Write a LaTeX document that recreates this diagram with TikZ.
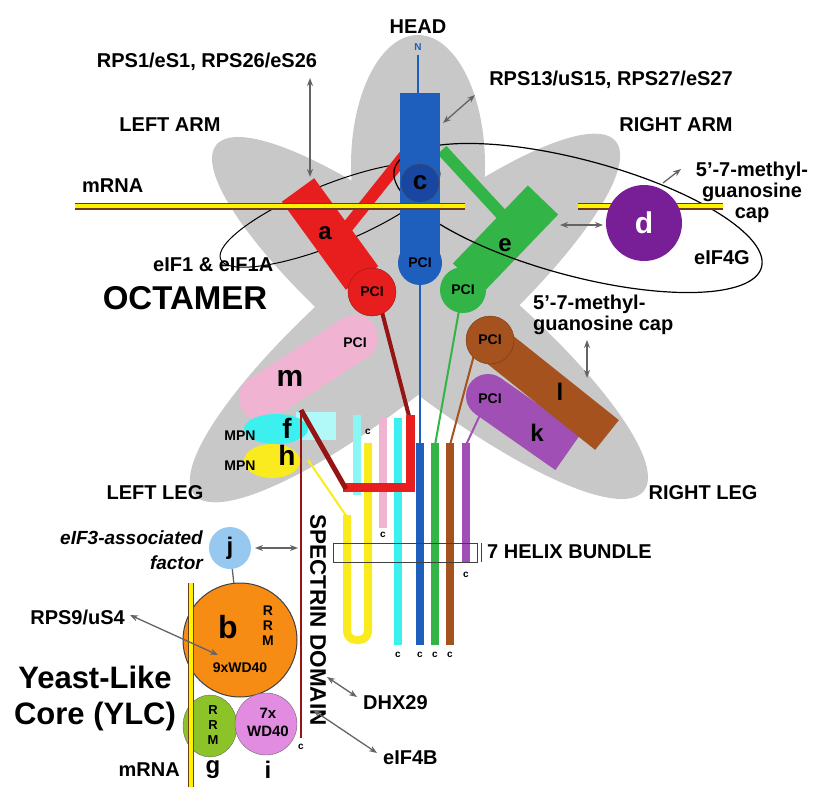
\documentclass[tikz,border=0pt]{standalone}
\usepackage{fontspec}
\setmainfont{Liberation Sans}
\usetikzlibrary{arrows.meta,shapes.geometric}
\definecolor{bggray}{RGB}{200,200,200}
\definecolor{redA}{RGB}{232,30,30}
\definecolor{darkred}{RGB}{150,20,20}
\definecolor{blueC}{RGB}{30,95,190}
\definecolor{blueCd}{RGB}{25,70,160}
\definecolor{greenE}{RGB}{50,180,70}
\definecolor{purpleD}{RGB}{120,30,150}
\definecolor{brownL}{RGB}{165,82,30}
\definecolor{purpleK}{RGB}{160,80,180}
\definecolor{pinkM}{RGB}{240,180,210}
\definecolor{cyanF}{RGB}{60,240,240}
\definecolor{yellowH}{RGB}{250,235,30}
\definecolor{orangeB}{RGB}{247,140,20}
\definecolor{greenG}{RGB}{140,195,40}
\definecolor{violetI}{RGB}{225,140,225}
\definecolor{lightblueJ}{RGB}{150,200,240}
\definecolor{arrowgray}{RGB}{100,100,100}
\definecolor{mrnaedge}{RGB}{110,60,20}
\begin{document}
\begin{tikzpicture}[x=1pt,y=-1pt,
  lbl/.style={font=\bfseries\fontsize{20}{22}\selectfont, inner sep=0pt},
  pcilbl/.style={font=\bfseries\fontsize{14}{16}\selectfont, inner sep=0pt},
  tinylbl/.style={font=\bfseries\fontsize{10}{10}\selectfont, inner sep=0pt},
  biglbl/.style={font=\bfseries\fontsize{31}{36}\selectfont, inner sep=0pt, align=center},
  sublbl/.style={font=\bfseries\fontsize{24}{26}\selectfont, inner sep=0pt},
  arr/.style={{Stealth[length=8pt,width=6pt]}-{Stealth[length=8pt,width=6pt]}, draw=arrowgray, line width=1.3pt},
  helix/.style={line width=8pt},
  pcicirc/.style={circle, minimum size=#1, inner sep=0pt, font=\bfseries\fontsize{14}{16}\selectfont},
]
\useasboundingbox (0,0) rectangle (817,787);

% gray body
\fill[bggray, rotate around={-39:(430,318)}] (430,318) ellipse [x radius=275pt, y radius=68pt];
\fill[bggray, rotate around={40:(405,318)}] (405,318) ellipse [x radius=275pt, y radius=68pt];
\fill[bggray] (418,165) ellipse [x radius=67pt, y radius=130pt];

% m, f, h
\draw[pinkM, line width=46pt, line cap=round] (355,338) -- (262,398);
\fill[cyanF!40] (296,412) rectangle (336,440);
\fill[cyanF] (276,429) ellipse [x radius=32pt, y radius=15pt];
\fill[yellowH] (272,461) ellipse [x radius=28pt, y radius=17pt];

% helices
\draw[cyanF!60, helix] (357,415) -- (357,495);
\draw[pinkM, helix] (383,418) -- (383,528);
\draw[cyanF, helix] (398,418) -- (398,645);
\draw[yellowH, helix, rounded corners=9pt] (347,515) -- (347,640) -- (368,640) -- (368,443);
\draw[yellowH, line width=2pt] (308,460) -- (347,517);
\draw[blueC, helix] (420,443) -- (420,645);
\draw[greenE, helix] (435,443) -- (435,645);
\draw[brownL, helix] (450,443) -- (450,645);
\draw[purpleK, helix] (466,443) -- (466,563);
\draw[blueC, line width=2pt] (420,280) -- (420,445);
\draw[greenE, line width=2pt] (460,305) -- (435,445);
\draw[brownL, line width=2pt] (474,355) -- (450,445);
\draw[purpleK, line width=2pt] (480,415) -- (466,445);

% helix bundle box
\node[draw=black!75, line width=1pt, minimum width=144pt, minimum height=19pt, inner sep=0pt] (bundle) at (405,552.5) {};
\draw[black!75, line width=1pt] (481,543) -- (481,562);
\node[lbl, anchor=west] (bundlelbl) at (487,552) {7 HELIX BUNDLE};

% red spectrin domain path
\draw[darkred, line width=4pt] (382,312) -- (410,420);
\draw[redA, line width=9pt] (410,415) -- (410,487) -- (343,487);
\draw[darkred, line width=5pt] (346,489) -- (301,410);
\draw[darkred, line width=2.5pt] (301,410) -- (301,738);

% eIF1 & eIF1A outline
\draw[black, line width=1pt, rotate around={22:(330,215)}] (330,215) ellipse [x radius=118pt, y radius=30pt];

% subunit a
\draw[redA, line width=40pt] (298,190) -- (362,278);
\draw[redA, line width=12pt] (345,230) -- (405,155);

% subunit e
\draw[greenE, line width=12pt] (442,150) -- (502,215);
\draw[greenE, line width=42pt] (543,200) -- (468,278);

% eIF4G outline
\draw[black, line width=1.2pt, rotate around={-15:(578,218)}] (578,218) ellipse [x radius=190pt, y radius=58pt];

% subunit c
\draw[blueC, line width=2pt] (418,55) -- (418,93);
\fill[blueC] (400,93) rectangle (440,265);

% mRNA
\draw[mrnaedge, line width=7pt] (75,206) -- (465,206);
\draw[yellow, line width=4pt] (75,206) -- (465,206);
\draw[mrnaedge, line width=7pt] (578,206) -- (723,206);
\draw[yellow, line width=4pt] (578,206) -- (723,206);

% k and l
\fill[purpleK] (488,396) circle (22pt);
\draw[purpleK, line width=44pt] (488,396) -- (568,452);
\node[pcilbl] (pcik) at (490,399) {PCI};
\node[sublbl] (klbl) at (537,433) {k};
\draw[brownL, line width=38pt] (498,348) -- (607,435);
\node[pcicirc=48pt, fill=brownL, draw=brownL!70!black] (pcil) at (490,340) {PCI};
\node[sublbl] (llbl) at (560,392) {l};

% PCI circles
\node[pcicirc=48pt, fill=redA, draw=darkred] (pcia) at (372,292) {PCI};
\node[pcicirc=44pt, fill=blueC] (pcic) at (420,263) {PCI};
\node[pcicirc=46pt, fill=greenE] (pcie) at (463,290) {PCI};
\node[circle, minimum size=38pt, inner sep=0pt, fill=blueCd, draw=black!70, font=\bfseries\fontsize{26}{26}\selectfont] (cnode) at (420,183) {c};
\node[sublbl] (alabel) at (325,233) {a};
\node[sublbl] (elabel) at (505,245) {e};
\node[circle, minimum size=76pt, inner sep=0pt, fill=purpleD, text=white, font=\bfseries\fontsize{30}{30}\selectfont] (dnode) at (644,223) {d};

% m f h labels
\node[pcilbl] (pcim) at (355,343) {PCI};
\node[font=\bfseries\fontsize{30}{30}\selectfont, inner sep=0pt] (mlbl) at (290,378) {m};
\node[pcilbl] (mpnf) at (240,436) {MPN};
\node[font=\bfseries\fontsize{28}{28}\selectfont, inner sep=0pt] (flbl) at (287,428) {f};
\node[pcilbl] (mpnh) at (240,466) {MPN};
\node[font=\bfseries\fontsize{28}{28}\selectfont, inner sep=0pt] (hlbl) at (287,455) {h};

% small terminus letters
\node[tinylbl, text=blueC] (nterm) at (418,47) {N};
\node[tinylbl] (c1) at (368,432) {c};
\node[tinylbl] (c2) at (383,535) {c};
\node[tinylbl] (c3) at (466,575) {c};
\node[tinylbl] (c4) at (398,655) {c};
\node[tinylbl] (c5) at (420,655) {c};
\node[tinylbl] (c6) at (435,655) {c};
\node[tinylbl] (c7) at (450,655) {c};
\node[tinylbl] (c8) at (301,747) {c};

% YLC
\node[circle, minimum size=114pt, inner sep=0pt, fill=orangeB, draw=black!75, line width=1pt] (bnode) at (240,640) {};
\node[ellipse, minimum width=54pt, minimum height=62pt, inner sep=0pt, fill=greenG, draw=black!60] (gnode) at (210,726) {};
\node[circle, minimum size=62pt, inner sep=0pt, fill=violetI, draw=black!60] (inode) at (266,724) {};
\node[font=\bfseries\fontsize{32}{32}\selectfont, inner sep=0pt] (blbl) at (228,627) {b};
\node[pcilbl, align=center, font=\bfseries\fontsize{14}{15}\selectfont] (brrm) at (268,626) {R\\R\\M};
\node[pcilbl] (bwd) at (240,668) {9xWD40};
\node[pcilbl, align=center, font=\bfseries\fontsize{13}{15}\selectfont] (grrm) at (213,725) {R\\R\\M};
\node[pcilbl, align=center, font=\bfseries\fontsize{15}{18}\selectfont] (iwd) at (268,722) {7x\\WD40};
\draw[mrnaedge, line width=6pt] (191,583) -- (191,787);
\draw[yellow, line width=4pt] (191,583) -- (191,787);
\node[circle, minimum size=42pt, inner sep=0pt, fill=lightblueJ, font=\bfseries\fontsize{24}{24}\selectfont] (jnode) at (230,548) {j};
\draw[arrowgray, line width=1.3pt] (jnode) -- (bnode);

% texts
\node[lbl] (head) at (418,27) {HEAD};
\node[lbl] (rps1) at (207,62) {RPS1/eS1, RPS26/eS26};
\node[lbl] (rps13) at (611,80) {RPS13/uS15, RPS27/eS27};
\node[lbl] (leftarm) at (170,125) {LEFT ARM};
\node[lbl] (rightarm) at (676,125) {RIGHT ARM};
\node[lbl, anchor=west] (mrna1) at (82,186) {mRNA};
\node[lbl, align=center, font=\bfseries\fontsize{20}{21}\selectfont] (cap1) at (752,192) {5'-7-methyl-\\guanosine\\cap};
\node[lbl] (eif4g) at (722,258) {eIF4G};
\node[lbl, anchor=west] (eif1) at (153,265) {eIF1 \& eIF1A};
\node[font=\bfseries\fontsize{33}{33}\selectfont, inner sep=0pt] (octamer) at (185,298) {OCTAMER};
\node[lbl, align=left, anchor=west, font=\bfseries\fontsize{20}{21}\selectfont] (cap2) at (533,315) {5'-7-methyl-\\guanosine cap};
\node[lbl] (leftleg) at (155,493) {LEFT LEG};
\node[lbl] (rightleg) at (703,493) {RIGHT LEG};
\node[lbl, rotate=-90, font=\bfseries\fontsize{22.5}{24}\selectfont] (spectrin) at (318,620) {SPECTRIN DOMAIN};
\node[lbl, anchor=east, align=right, font=\bfseries\itshape\fontsize{19}{25}\selectfont] (assoc) at (203,550) {eIF3-associated\\factor};
\node[lbl, anchor=east] (rps9) at (125,617) {RPS9/uS4};
\node[biglbl] (ylc) at (95,698) {Yeast-Like\\Core (YLC)};
\node[lbl, anchor=east] (mrna2) at (180,770) {mRNA};
\node[font=\bfseries\fontsize{24}{24}\selectfont, inner sep=0pt] (glbl) at (213,770) {g};
\node[font=\bfseries\fontsize{24}{24}\selectfont, inner sep=0pt] (ilbl) at (268,770) {i};
\node[lbl, anchor=west] (dhx) at (363,703) {DHX29};
\node[lbl, anchor=west] (eif4b) at (383,758) {eIF4B};

% arrow end points
\coordinate (a1s) at (310,78);  \coordinate (a1e) at (310,177);
\coordinate (a2s) at (443,123); \coordinate (a2e) at (475,95);
\coordinate (a3s) at (560,225); \coordinate (a3e) at (603,225);
\coordinate (a4s) at (663,183); \coordinate (a4e) at (681,169);
\coordinate (a5s) at (587,340); \coordinate (a5e) at (587,378);
\coordinate (a6s) at (255,548); \coordinate (a6e) at (298,548);
\coordinate (a7s) at (130,615); \coordinate (a7e) at (218,655);
\coordinate (a8s) at (327,677); \coordinate (a8e) at (357,697);
\coordinate (a9s) at (313,710); \coordinate (a9e) at (377,753);
\draw[arr] (a1s) -- (a1e);
\draw[arr] (a2s) -- (a2e);
\draw[arr] (a3s) -- (a3e);
\draw[arrowgray, line width=1.3pt, -{Stealth[length=8pt,width=6pt]}] (a4s) -- (a4e);
\draw[arr] (a5s) -- (a5e);
\draw[arr] (a6s) -- (a6e);
\draw[arr] (a7s) -- (a7e);
\draw[arr] (a8s) -- (a8e);
\draw[arr] (a9s) -- (a9e);
\end{tikzpicture}
\end{document}
